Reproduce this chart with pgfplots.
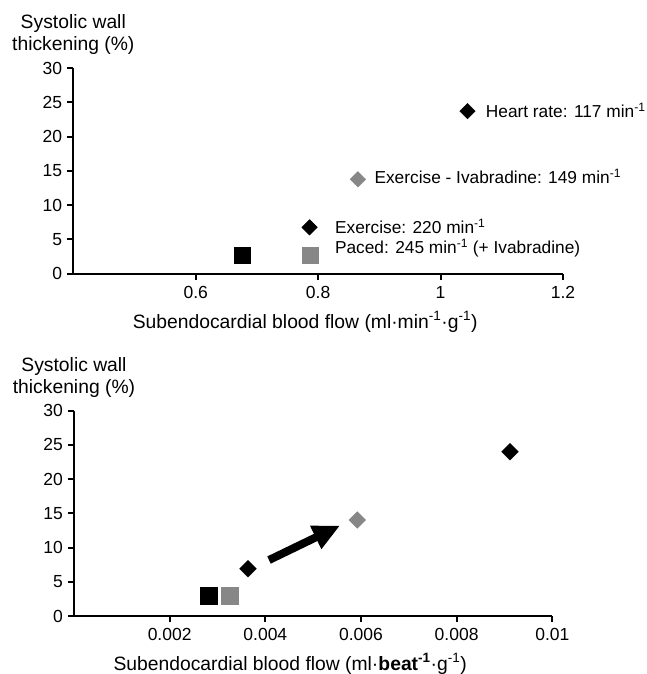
\documentclass[border=0pt]{standalone}
\usepackage{fontspec}
\setmainfont{Liberation Sans}
\usepackage{pgfplots}
\pgfplotsset{compat=1.18}
\usetikzlibrary{arrows.meta}
\definecolor{mgray}{RGB}{135,135,135}

\pgfplotsset{
  myax/.style={
    scale only axis,
    axis lines=left,
    axis line style={-, line width=2pt},
    ymin=0, ymax=30, ytick={0,5,...,30},
    tick align=outside,
    major tick length=6pt,
    every tick/.style={black, line width=2pt},
    tick label style={font=\fontsize{17.5}{20}\selectfont},
    yticklabel style={anchor=east, inner sep=0pt, xshift=-5pt},
    xticklabel style={anchor=base, inner sep=0pt, yshift=-18.8pt},
    /pgf/number format/assume math mode=true,
    scaled x ticks=false,
    clip=false,
    label style={font=\fontsize{19.3}{22.7}\selectfont},
    ylabel style={at={(axis description cs:0,1)}, rotate=-90, anchor=south, align=center, inner sep=0pt, yshift=12.8pt},
    xlabel style={at={(axis description cs:0.5,0)}, anchor=base, inner sep=0pt},
  },
}
\tikzset{lab/.style={anchor=base west, inner sep=0pt, font=\fontsize{17.3}{20}\selectfont}}

\begin{document}
\begin{tikzpicture}
\path[use as bounding box] (0,0) rectangle (646pt,-674pt);

% ---------- top panel ----------
\begin{axis}[myax,
  at={(73.3pt,-273.5pt)}, anchor=south west,
  width=489.7pt, height=205.5pt,
  xmin=0.4, xmax=1.2,
  xtick={0.6,0.8,1,1.2}, xticklabels={0.6,0.8,1,1.2},
  ylabel={Systolic wall\\thickening (\%)},
  xlabel={Subendocardial blood flow (ml·min\textsuperscript{-1}·g\textsuperscript{-1})},
  xlabel style={xshift=-13pt, yshift=-54.8pt},
]
\addplot[only marks, mark=square*, mark size=8.1pt, black] coordinates {(0.676,2.7)};
\addplot[only marks, mark=square*, mark size=8.1pt, mgray, mark options={draw=mgray, fill=mgray}] coordinates {(0.787,2.7)};
\addplot[only marks, mark=square*, mark size=5.5pt, black, mark options={rotate=45}] coordinates {(0.786,6.74) (1.044,23.7)};
\addplot[only marks, mark=square*, mark size=5.5pt, mgray, mark options={rotate=45, draw=mgray, fill=mgray}] coordinates {(0.865,13.75)};
\node[lab] at (axis cs:1.0737,22.8) {Heart rate: 117 min\textsuperscript{-1}};
\node[lab] at (axis cs:0.8918,13.17) {Exercise - Ivabradine: 149 min\textsuperscript{-1}};
\node[lab] at (axis cs:0.8273,5.87) {Exercise: 220 min\textsuperscript{-1}};
\node[lab] at (axis cs:0.8273,2.95) {Paced: 245 min\textsuperscript{-1} (+ Ivabradine)};
\end{axis}

% ---------- bottom panel ----------
\begin{axis}[myax,
  at={(74pt,-616pt)}, anchor=south west,
  width=478.3pt, height=205.3pt,
  xmin=0, xmax=0.01,
  xtick={0.002,0.004,0.006,0.008,0.01}, xticklabels={0.002,0.004,0.006,0.008,0.01},
  ylabel={Systolic wall\\thickening (\%)},
  xlabel={Subendocardial blood flow (ml·\textbf{beat\textsuperscript{-1}}·g\textsuperscript{-1})},
  xlabel style={xshift=-23pt, yshift=-54pt},
]
\draw[black, line width=8pt, -{Triangle[length=27pt, width=24pt]}] (axis cs:0.004077,8.18) -- (axis cs:0.005561,13.2);
\addplot[only marks, mark=square*, mark size=8.6pt, black] coordinates {(0.002818,3.0)};
\addplot[only marks, mark=square*, mark size=8.6pt, mgray, mark options={draw=mgray, fill=mgray}] coordinates {(0.003258,3.0)};
\addplot[only marks, mark=square*, mark size=5.9pt, black, mark options={rotate=45}] coordinates {(0.003638,6.9) (0.009116,24.0)};
\addplot[only marks, mark=square*, mark size=5.9pt, mgray, mark options={rotate=45, draw=mgray, fill=mgray}] coordinates {(0.005924,14.03)};
\end{axis}
\end{tikzpicture}
\end{document}
